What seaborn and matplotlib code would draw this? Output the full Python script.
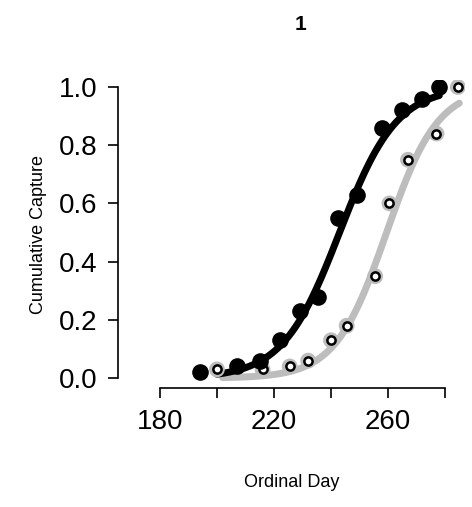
import numpy as np
import pandas as pd
import seaborn as sns
from matplotlib import pyplot as plt

## observed cumulative capture
day_a = [194, 207, 215, 222, 229, 235.5, 242.5, 249, 258, 265, 272, 278]
cap_a = [0.02, 0.04, 0.06, 0.13, 0.23, 0.28, 0.55, 0.63, 0.86, 0.92, 0.96, 1.0]
day_b = [200, 216, 225.5, 232, 240, 245.5, 255.5, 260.5, 267, 277, 284.5]
cap_b = [0.03, 0.03, 0.04, 0.06, 0.13, 0.18, 0.35, 0.60, 0.75, 0.84, 1.0]
## fitted logistic curves (midpoint, scale, range)
fit_a = (243, 10.0, 200, 278)
fit_b = (259.5, 9.0, 202, 285)

sns.set_style("white")
plt.rcParams['font.family'] = ['Liberation Sans', 'DejaVu Sans']
plt.rcParams['text.color'] = 'black'
plt.rcParams['xtick.color'] = 'black'
plt.rcParams['ytick.color'] = 'black'
plt.rcParams['axes.labelcolor'] = 'black'
fig = plt.figure(figsize=(4.72, 5.07), dpi=100)
W, H = 472, 507
ax = fig.add_axes([118 / W, 1 - 388 / H, (465 - 118) / W, (388 - 80) / H])

def curve(m, s, lo, hi):
    x = np.linspace(lo, hi, 200)
    return pd.DataFrame({"x": x, "y": 1 / (1 + np.exp(-(x - m) / s))})

cb = curve(*fit_b)
sns.lineplot(data=cb, x="x", y="y", ax=ax, color="#bdbdbd", lw=5)
ca = curve(*fit_a)
sns.lineplot(data=ca, x="x", y="y", ax=ax, color="black", lw=5)
ax.scatter(day_b, cap_b, s=70, facecolor="none", edgecolor="#bdbdbd", lw=3, zorder=3)
ax.scatter(day_b, cap_b, s=35, facecolor="white", edgecolor="black", lw=1.8, zorder=3)
ax.scatter(day_a, cap_a, s=120, color="black", zorder=4)

ax.set_xlim(165.3, 287)
ax.set_ylim(-0.034, 1.024)
ax.set_xticks([180, 200, 220, 240, 260, 280])
ax.set_xticklabels(["180", "", "220", "", "260", ""])
ax.set_yticks([0, 0.2, 0.4, 0.6, 0.8, 1.0])
ax.set_yticklabels(["0.0", "0.2", "0.4", "0.6", "0.8", "1.0"])
ax.tick_params(labelsize=20, length=7, width=1.2, direction="out", bottom=True, left=True, pad=8)
for side in ["top", "right"]:
    ax.spines[side].set_visible(False)
ax.spines["left"].set_bounds(0, 1)
ax.spines["bottom"].set_bounds(180, 280)
for sp in ["left", "bottom"]:
    ax.spines[sp].set_linewidth(1.2)
    ax.spines[sp].set_color("black")
ax.set_xlabel("Ordinal Day", fontsize=13, labelpad=28)
ax.set_ylabel("Cumulative Capture", fontsize=13, labelpad=8)
fig.text(300 / W, 1 - 25 / H, "1", fontsize=15, fontweight="bold", ha="center", va="center")
fig.savefig("out.png")
